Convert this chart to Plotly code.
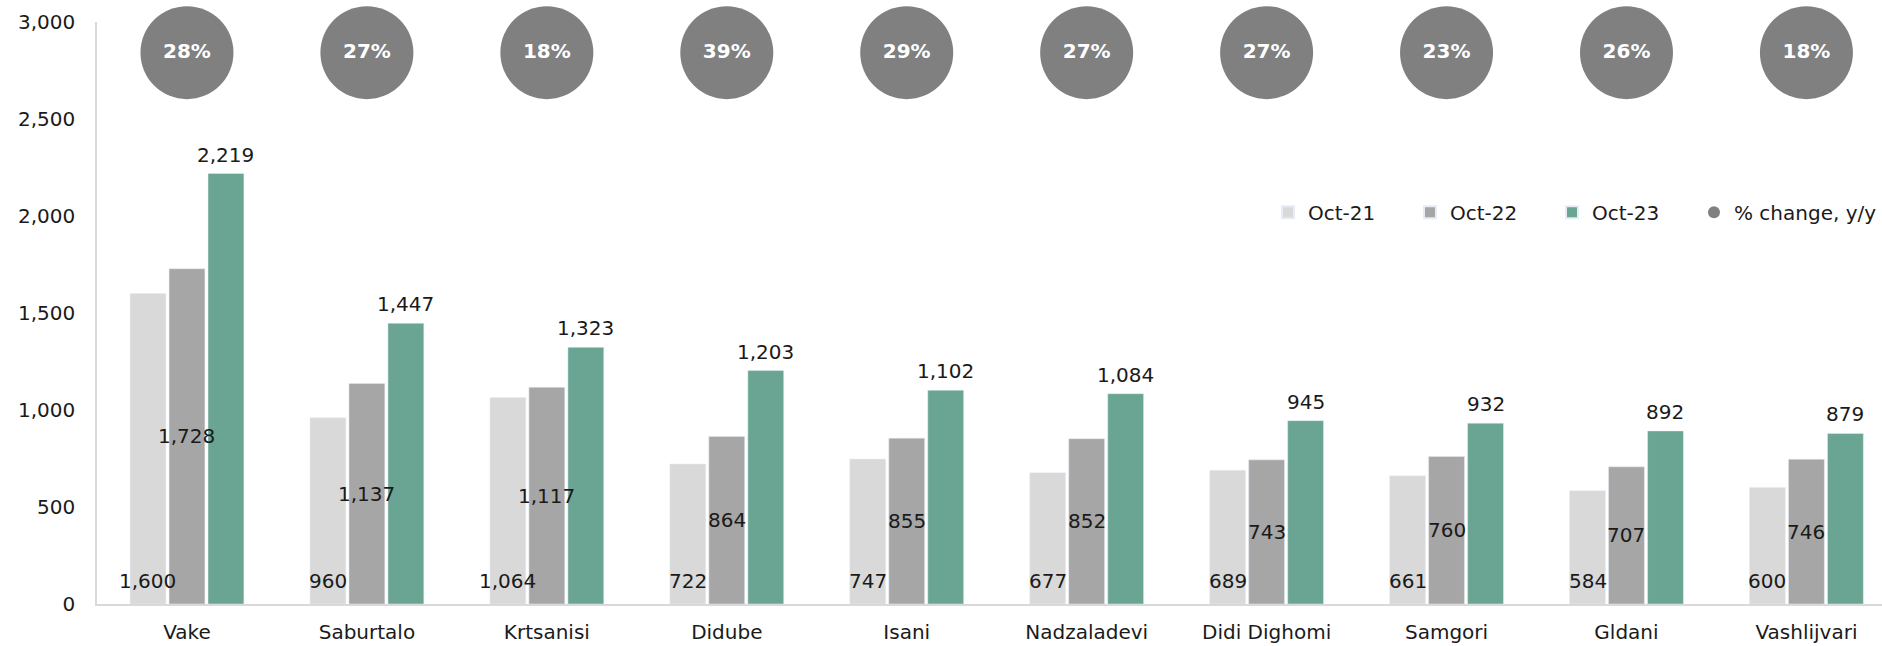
import plotly.graph_objects as go

# District names along the x axis
districts = ["Vake", "Saburtalo", "Krtsanisi", "Didube", "Isani",
             "Nadzaladevi", "Didi Dighomi", "Samgori", "Gldani", "Vashlijvari"]

# Values per period
oct_21 = [1600, 960, 1064, 722, 747, 677, 689, 661, 584, 600]
oct_22 = [1728, 1137, 1117, 864, 855, 852, 743, 760, 707, 746]
oct_23 = [2219, 1447, 1323, 1203, 1102, 1084, 945, 932, 892, 879]

# Year-over-year change, percent
pct_change = [28, 27, 18, 39, 29, 27, 27, 23, 26, 18]

# Y axis ticks
y_ticks = [0, 500, 1000, 1500, 2000, 2500, 3000]

FONT = "DejaVu Sans"
INK = "#1a1a1a"
LABEL_SIZE = 20
BUBBLE_LEVEL = 2842  # vertical level for the % change row
LEGEND_ENTRY = 97    # text slot of each bar legend entry, px

# Geometry used to offset the per-bar labels
WIDTH, HEIGHT = 1882, 646
MARGIN_L, MARGIN_R = 97, 0
X_RANGE = [-0.5, 9.42]
BARGAP = 0.35
px_per_cat = (WIDTH - MARGIN_L - MARGIN_R) / (X_RANGE[1] - X_RANGE[0])
bar_slot = px_per_cat * (1 - BARGAP) / 3

fig = go.Figure()

series = [("Oct-21", oct_21, "#d9d9d9"),
          ("Oct-22", oct_22, "#a6a6a6"),
          ("Oct-23", oct_23, "#69a592")]
for name, values, color in series:
    fig.add_trace(go.Bar(
        name=name, x=districts, y=values,
        marker=dict(color=color), legendwidth=LEGEND_ENTRY,
        hoverinfo="skip",
    ))

fig.add_trace(go.Scatter(
    name="% change, y/y", x=districts, y=[BUBBLE_LEVEL] * len(districts),
    mode="markers+text",
    marker=dict(color="#808080", size=93, line=dict(width=0)),
    text=[f"<b>{p}%</b>" for p in pct_change],
    textposition="middle center",
    textfont=dict(family=FONT, size=20, color="#ffffff"),
    cliponaxis=False, hoverinfo="skip",
))

# Value labels: Oct-21 near the bar base, Oct-22 mid-bar, Oct-23 above the bar
label_font = dict(family=FONT, size=LABEL_SIZE, color=INK)
annotations = []
for d, v in zip(districts, oct_21):
    annotations.append(dict(
        x=d, y=0, text=f"{v:,}", showarrow=False,
        xanchor="center", yanchor="bottom", xshift=-bar_slot, yshift=9,
        font=label_font,
    ))
for d, v in zip(districts, oct_22):
    annotations.append(dict(
        x=d, y=v / 2, text=f"{v:,}", showarrow=False,
        xanchor="center", yanchor="middle",
        font=label_font,
    ))
for d, v in zip(districts, oct_23):
    annotations.append(dict(
        x=d, y=v, text=f"{v:,}", showarrow=False,
        xanchor="center", yanchor="bottom", xshift=bar_slot, yshift=5,
        font=label_font,
    ))

fig.update_layout(
    width=WIDTH, height=HEIGHT,
    margin=dict(l=MARGIN_L, r=MARGIN_R, t=22, b=42),
    paper_bgcolor="#ffffff", plot_bgcolor="#ffffff",
    barmode="group", bargap=BARGAP, bargroupgap=0.08,
    font=dict(family=FONT, size=20, color=INK),
    showlegend=True,
    legend=dict(
        orientation="h", x=1.0, xanchor="right", y=0.673, yanchor="middle",
        font=dict(family=FONT, size=20, color=INK),
        itemsizing="constant", bgcolor="rgba(0,0,0,0)",
        traceorder="normal",
    ),
    annotations=annotations,
    xaxis=dict(
        range=X_RANGE, showgrid=False, zeroline=False,
        showline=True, linecolor="#d9d9d9", linewidth=1.5,
        ticks="", ticklabelstandoff=9,
        tickfont=dict(family=FONT, size=20, color=INK),
        fixedrange=True,
    ),
    yaxis=dict(
        range=[0, 3000], tickvals=y_ticks, tickformat=",",
        showgrid=False, zeroline=False,
        showline=True, linecolor="#d9d9d9", linewidth=1.5,
        ticks="", ticklabelstandoff=16,
        tickfont=dict(family=FONT, size=20, color=INK),
        fixedrange=True,
    ),
)

fig.write_html("out.html")
